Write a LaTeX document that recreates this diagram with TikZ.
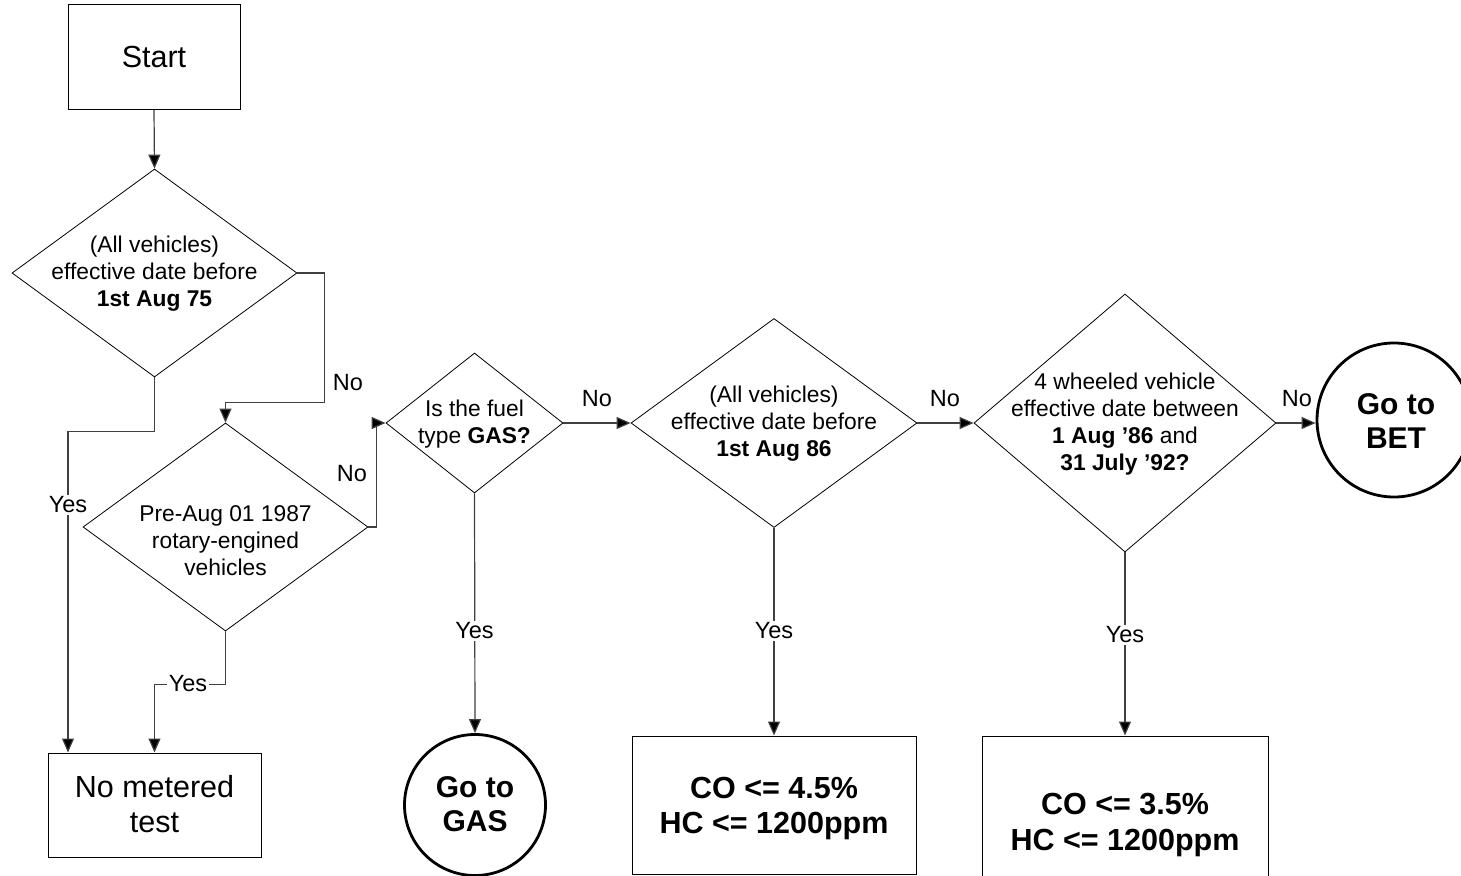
\documentclass[tikz,border=0pt]{standalone}
\usepackage{fontspec}
\setmainfont{Liberation Sans}
\usetikzlibrary{shapes.geometric,arrows.meta,calc}
\begin{document}
\begin{tikzpicture}[x=1pt,y=-1pt,
  box/.style={draw,line width=1pt,rectangle,inner sep=0pt},
  dia/.style={draw,line width=0.8pt,diamond,inner sep=0pt},
  circ/.style={draw,line width=2.8pt,circle,inner sep=0pt},
  dtext/.style={align=center,font=\fontsize{22.8}{27}\selectfont},
  btext/.style={align=center,font=\fontsize{30.5}{35}\selectfont},
  ctext/.style={align=center,font=\bfseries\fontsize{30}{34}\selectfont},
  lbl/.style={fill=white,inner sep=2pt,font=\fontsize{23.5}{27}\selectfont},
  lbln/.style={inner sep=2pt,font=\fontsize{23.5}{27}\selectfont},
  conn/.style={line width=1.2pt,draw=black!75,-{Triangle[length=14pt,width=12pt,fill=black]}},
  line/.style={line width=1.2pt,draw=black!75}]
\clip (0,0) rectangle (1461,875);
\fill[white] (0,0) rectangle (1461,875);

% nodes
\node[box,minimum width=172,minimum height=105] (start) at (154,57) {};
\node[btext] (startt) at (start) {Start};

\node[dia,minimum width=285,minimum height=208] (d1) at (154.5,273) {};
\node[dtext] (d1t) at (154.5,274) {(All vehicles)\\effective date before\\\textbf{1st Aug 75}};

\node[dia,minimum width=285,minimum height=208] (d2) at (225.5,527) {};
\node[dtext] (d2t) at (225.5,541) {Pre-Aug 01 1987\\rotary-engined\\vehicles};

\node[box,minimum width=213,minimum height=104] (nm) at (154.5,805) {};
\node[btext] (nmt) at (154.5,804.5) {No metered\\test};

\node[dia,minimum width=177,minimum height=140] (gas) at (474.5,423) {};
\node[dtext] (gast) at (474.5,424) {Is the fuel\\type \textbf{GAS?}};

\node[dia,minimum width=286,minimum height=209] (aug) at (774,423) {};
\node[dtext] (augt) at (774,424) {(All vehicles)\\effective date before\\\textbf{1st Aug 86}};

\node[dia,minimum width=302,minimum height=258] (w4) at (1125,423) {};
\node[dtext] (w4t) at (1125,424.5) {4 wheeled vehicle\\effective date between\\\textbf{1 Aug ’86} and\\\textbf{31 July ’92?}};

\node[circ,minimum size=154] (bet) at (1394,420) {};
\node[ctext] (bett) at (1396,421) {Go to\\BET};

\node[circ,minimum size=141] (gasc) at (475,805) {};
\node[ctext] (gasct) at (475,804) {Go to\\GAS};

\node[box,minimum width=284,minimum height=138] (b2) at (774,805) {};
\node[ctext,font=\bfseries\fontsize{30.5}{35}\selectfont] (b2t) at (774,808.5) {CO <= 4.5\%\\HC <= 1200ppm};

\node[box,minimum width=286,minimum height=172] (b3) at (1125,822) {};
\node[ctext,font=\bfseries\fontsize{30.5}{36}\selectfont] (b3t) at (1125,825) {CO <= 3.5\%\\HC <= 1200ppm};

% connectors
\draw[conn] (start.south) -- (d1.north);
\draw[conn] (d1.east) -- ++(27,0) |- ($(d2.north)+(0,-20)$) -- (d2.north);
\draw[conn] (d1.south) -- ++(0,54) -| ([xshift=-86.5pt]nm.north);
\draw[conn] (d2.south) -- ++(0,53) -| (nm.north);
\draw[conn] (d2.east) -- ++(8,0) |- (gas.west);
\draw[conn] (gas.east) -- (aug.west);
\draw[conn] (aug.east) -- (w4.west);
\draw[conn] (w4.east) -- (w4.east -| bet.west);
\draw[conn] (gas.south) -- (gasc.north);
\draw[conn] (aug.south) -- (b2.north);
\draw[conn] (w4.south) -- (b3.north);

% labels
\node[lbln] (l1) at (348,383) {No};
\node[lbl] (l2) at (68,505) {Yes};
\node[lbln] (l3) at (352,474) {No};
\node[lbl] (l4) at (188,684) {Yes};
\node[lbln] (l5) at (597,399) {No};
\node[lbln] (l6) at (945,399) {No};
\node[lbln] (l7) at (1297,399) {No};
\node[lbl] (l8) at (474.5,631) {Yes};
\node[lbl] (l9) at (774,631) {Yes};
\node[lbl] (l10) at (1125,635) {Yes};
\end{tikzpicture}
\end{document}
